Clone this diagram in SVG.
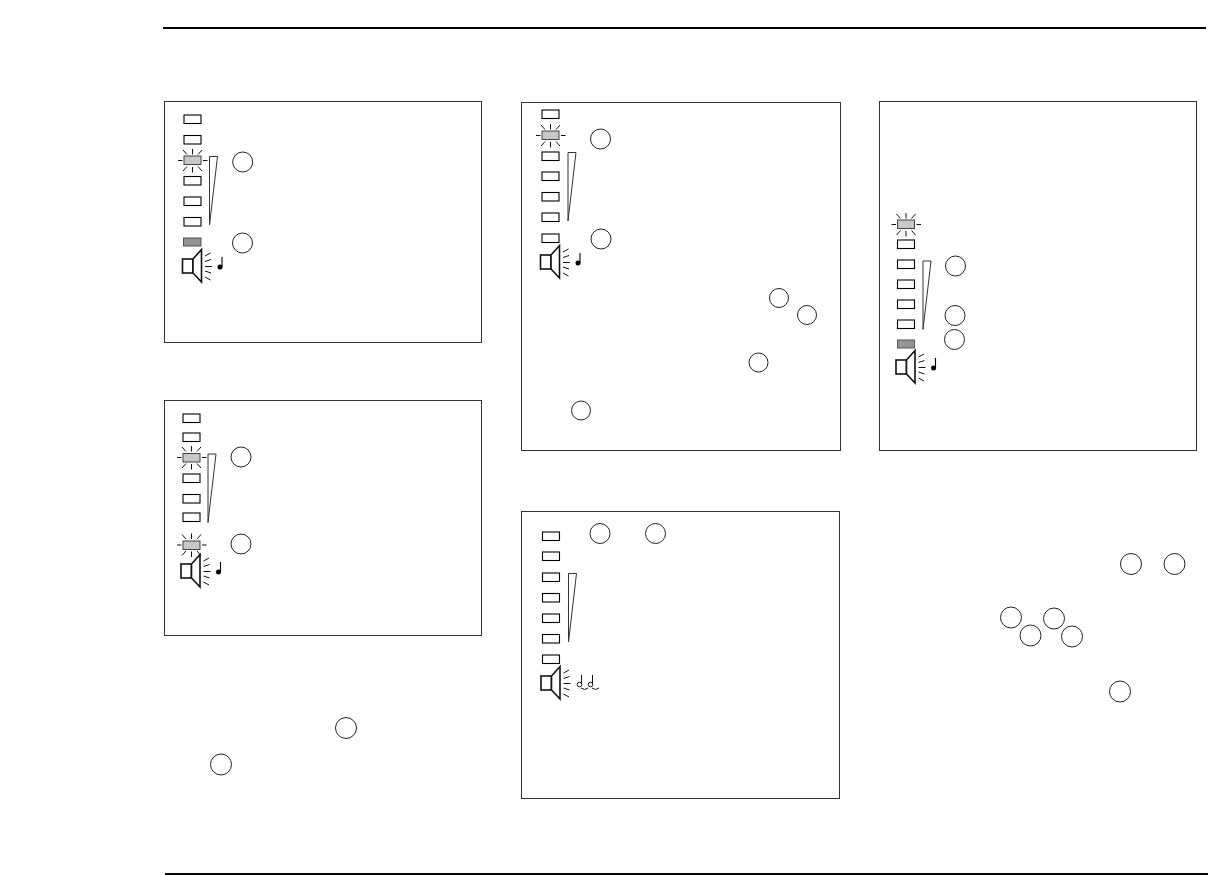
<svg xmlns="http://www.w3.org/2000/svg" xmlns:xlink="http://www.w3.org/1999/xlink" width="1208" height="875" viewBox="0 0 1208 875">
<style>
.panel{fill:#fff;stroke:#333;stroke-width:1}
.rule{stroke:#000;stroke-width:2;fill:none}
.led{fill:#fff;stroke:#000;stroke-width:1.100}
.lit{fill:#c8c8c8;stroke:#444;stroke-width:1}
.on{fill:#949494;stroke:#555;stroke-width:1}
.ray{stroke:#111;stroke-width:1;fill:none}
.wedge{fill:#fff;stroke:#333;stroke-width:1}
.c{fill:#fff;stroke:#222;stroke-width:1}
.spk{fill:#fff;stroke:#111;stroke-width:1.600;stroke-linejoin:miter}
</style>
<defs>
<g id="speaker">
<rect class="spk" x="0.500" y="-7" width="10.500" height="14"/>
<path class="spk" d="M11-7 19.500-16.500V16 L11 7Z"/>
<path class="ray" d="M23-10 28.500-13M23-4.500 29-6.500M23 .5H30M23 5 29 7M23 11 28.500 14"/>
</g>
<g id="note"><circle cx="0" cy="0" r="2.500" fill="#000"/><path d="M2 0V-10" stroke="#000" stroke-width="1.100"/></g>
<g id="glow"><path class="ray" d="M-14.500 0H-10M10.500 0H15M0-11.500V-6M0 6.500V12M-9.500-10.500-5.500-6M9.500-10.500 5.500-6M-9.500 10.500-5.500 6M9.500 10.500 5.500 6"/></g>
<rect id="led" class="led" x="0" y="0" width="17" height="8.500"/>
<path id="wedge" class="wedge" d="M0 0H8L0 68.500Z"/>
</defs>

<g id="rules">
<path class="rule" d="M163 28H1206"/>
<path class="rule" d="M165 874H1208"/>
</g>

<g id="panel-1">
<rect class="panel" x="164.500" y="101.500" width="317" height="241"/>
<use xlink:href="#led" x="184" y="115"/><use xlink:href="#led" x="184" y="135.500"/>
<rect class="lit" x="184" y="156" width="17" height="8.500"/><use xlink:href="#glow" x="192.500" y="160.500"/>
<use xlink:href="#led" x="184" y="176.500"/><use xlink:href="#led" x="184" y="197"/><use xlink:href="#led" x="184" y="217.500"/>
<rect class="on" x="183.500" y="238" width="17.500" height="8"/>
<use xlink:href="#wedge" x="209.500" y="156.500"/>
<use xlink:href="#speaker" x="182" y="266"/><use xlink:href="#note" x="220" y="267"/>
<circle class="c" cx="242.700" cy="162" r="10"/><circle class="c" cx="242.500" cy="243" r="10"/>
</g>

<g id="panel-2">
<rect class="panel" x="164.500" y="400.500" width="317" height="235"/>
<use xlink:href="#led" x="183" y="414"/><use xlink:href="#led" x="183" y="433"/>
<rect class="lit" x="183" y="453.500" width="17" height="8.500"/><use xlink:href="#glow" x="191.500" y="457.500"/>
<use xlink:href="#led" x="183" y="474"/><use xlink:href="#led" x="183" y="494.500"/><use xlink:href="#led" x="183" y="513"/>
<rect class="lit" x="183" y="541" width="17" height="8.500"/><use xlink:href="#glow" x="191.500" y="545"/>
<use xlink:href="#wedge" x="208" y="454"/>
<use xlink:href="#speaker" x="180.500" y="571"/><use xlink:href="#note" x="218.500" y="572"/>
<circle class="c" cx="241" cy="457" r="10"/><circle class="c" cx="241" cy="544" r="10"/>
</g>

<g id="panel-3">
<rect class="panel" x="521.500" y="102.500" width="319" height="348"/>
<use xlink:href="#led" x="542" y="110"/>
<rect class="lit" x="542" y="131" width="17" height="8.500"/><use xlink:href="#glow" x="550.500" y="135.500"/>
<use xlink:href="#led" x="542" y="152"/><use xlink:href="#led" x="542" y="172"/><use xlink:href="#led" x="542" y="192.500"/><use xlink:href="#led" x="542" y="213"/><use xlink:href="#led" x="542" y="234"/>
<use xlink:href="#wedge" x="568" y="152.500"/>
<use xlink:href="#speaker" x="540" y="262"/><use xlink:href="#note" x="578" y="263"/>
<circle class="c" cx="600.500" cy="139" r="10"/><circle class="c" cx="601" cy="239" r="10"/>
<circle class="c" cx="779" cy="298" r="9.500"/><circle class="c" cx="807" cy="315" r="9.500"/><circle class="c" cx="758.500" cy="362.500" r="9.500"/><circle class="c" cx="581" cy="410.500" r="9.500"/>
</g>

<g id="panel-4">
<rect class="panel" x="521.500" y="511.500" width="318" height="287"/>
<use xlink:href="#led" x="542.500" y="532"/><use xlink:href="#led" x="542.500" y="552"/><use xlink:href="#led" x="542.500" y="573"/><use xlink:href="#led" x="542.500" y="593.500"/><use xlink:href="#led" x="542.500" y="614"/><use xlink:href="#led" x="542.500" y="634.500"/><use xlink:href="#led" x="542.500" y="655"/>
<use xlink:href="#wedge" x="568.500" y="573.500"/>
<use xlink:href="#speaker" x="540.500" y="683"/>
<path d="M581.500 684V675M592.500 684V675" stroke="#111" stroke-width="1" fill="none"/>
<circle cx="579.500" cy="684.500" r="2.300" fill="#fff" stroke="#111" stroke-width="1"/><circle cx="590.500" cy="684.500" r="2.300" fill="#fff" stroke="#111" stroke-width="1"/>
<path class="ray" d="M581 688Q584.500 691 588 688M592 688Q595.500 691 599 688"/>
<circle class="c" cx="600" cy="533.500" r="10"/><circle class="c" cx="655.500" cy="533.500" r="10"/>
</g>

<g id="panel-5">
<rect class="panel" x="879.500" y="101.500" width="317" height="349"/>
<rect class="lit" x="897.500" y="220" width="17" height="8.500"/><use xlink:href="#glow" x="906" y="224.500"/>
<use xlink:href="#led" x="897.500" y="240"/><use xlink:href="#led" x="897.500" y="260"/><use xlink:href="#led" x="897.500" y="280"/><use xlink:href="#led" x="897.500" y="300"/><use xlink:href="#led" x="897.500" y="320"/>
<rect class="on" x="897.500" y="340" width="17" height="8"/>
<use xlink:href="#wedge" x="923" y="261"/>
<use xlink:href="#speaker" x="895.500" y="367"/><use xlink:href="#note" x="933.500" y="368"/>
<circle class="c" cx="955.500" cy="266" r="10"/><circle class="c" cx="955" cy="315.500" r="10"/><circle class="c" cx="954.500" cy="339.500" r="10"/>
</g>

<g id="callouts">
<circle class="c" cx="346" cy="728" r="10.500"/><circle class="c" cx="221" cy="764.500" r="10.500"/>
<circle class="c" cx="1131" cy="564" r="10.500"/><circle class="c" cx="1174.500" cy="564" r="10.500"/>
<circle class="c" cx="1011" cy="617.500" r="10.500"/><circle class="c" cx="1054" cy="618.500" r="10.500"/><circle class="c" cx="1030.500" cy="635.500" r="10.500"/><circle class="c" cx="1072" cy="636.500" r="10.500"/>
<circle class="c" cx="1120" cy="691.500" r="10.500"/>
</g>
</svg>
